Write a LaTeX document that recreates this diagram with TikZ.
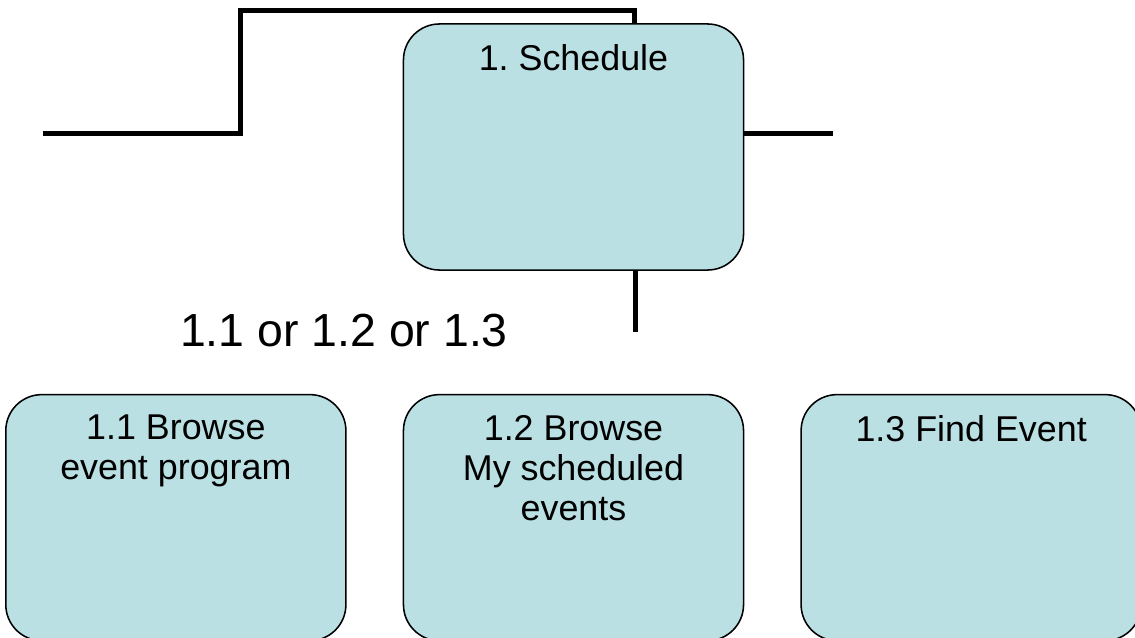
\documentclass[tikz,border=0pt]{standalone}
\usepackage{fontspec}
\setmainfont{Liberation Sans}
\usetikzlibrary{positioning,calc}
\definecolor{boxfill}{RGB}{186,224,227}

\begin{document}
\frenchspacing
\begin{tikzpicture}[x=0.025cm,y=-0.025cm,node distance=1.4cm,
	task/.style={draw,fill=boxfill,line width=1.1pt,rounded corners=0.9cm,
		minimum width=8.5cm,minimum height=6.15cm,inner sep=0pt},
	title/.style={anchor=north,inner sep=0pt,align=center,font=\fontsize{25.5}{28.5}\selectfont},
	wire/.style={line width=3.5pt}]

\useasboundingbox (0,0) rectangle (1135,637);

\coordinate (in) at (43,133.5);
\coordinate (out) at (833,133.5);
\coordinate (down) at (635.5,332);

\node[task] (sched) at (573.5,147) {};

\node[task] (browse) [below=3.075cm of sched] {};
\node[task] (program) [left=of browse] {};
\node[task] (find) [right=of browse] {};

\coordinate (topjoin) at ($(sched.north west)+(231.5,0)$);

\draw[wire] (in) -| (240.5,10.5) -| (topjoin);
\draw[wire] (sched.east |- out) -- (out);
\draw[wire] (sched.south -| down) -- (down);

\node[title] (schedt) at ($(sched.north)+(0,21)$) {1. Schedule};
\node[title] (programt) at ($(program.north)+(0,21)$) {1.1 Browse\\event program};
\node[title] (browset) at ($(browse.north)+(0,21)$) {1.2 Browse\\My scheduled\\events};
\node[title] (findt) at ($(find.north)+(0,21)$) {1.3 Find Event};

\node[anchor=base,font=\fontsize{33}{36}\selectfont] (choice) at (344,346) {1.1 or 1.2 or 1.3};

\end{tikzpicture}
\end{document}
